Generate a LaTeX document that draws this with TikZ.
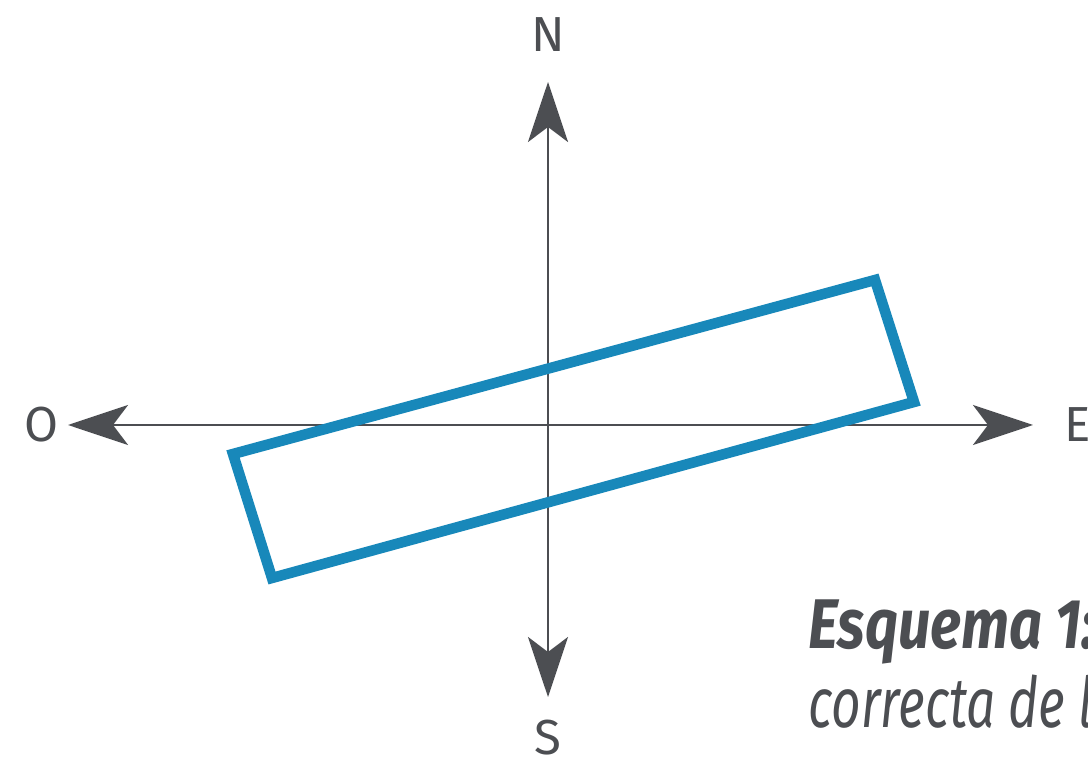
\documentclass[tikz,border=0pt]{standalone}
\usepackage{fontspec}
\setmainfont{Fira Sans}
\usepackage{tikz}
\usetikzlibrary{arrows.meta, positioning, calc}
\definecolor{axisgray}{RGB}{76, 78, 82}
\definecolor{boxblue}{RGB}{24, 136, 186}

\begin{document}
\begin{tikzpicture}[
    axis/.style={draw=axisgray, line width=1.7pt, -{Stealth[length=1.2cm, width=0.8cm, inset=0.3cm]}},
    dir/.style={text=axisgray, font=\fontsize{28}{32}\selectfont, inner sep=0pt},
    plate/.style={draw=boxblue, line width=6pt, line join=miter},
    caption/.style={text=axisgray, font=\fontsize{40}{44}\selectfont\itshape, inner sep=0pt, anchor=base west, transform shape},
]

% Frame
\useasboundingbox (0,0) rectangle (21.76,15.38);
\clip (0,0) rectangle (21.76,15.38);

% Centre and arrow ends
\coordinate (c) at (10.96,6.88);
\coordinate (n) at (10.96,13.74);
\coordinate (s) at (10.96,1.44);
\coordinate (o) at (1.36,6.88);
\coordinate (e) at (20.66,6.88);

% Axes
\draw[axis] (c) -- (n);
\draw[axis] (c) -- (s);
\draw[axis] (c) -- (o);
\draw[axis] (c) -- (e);

% Direction labels
\node[dir] (lblN) at (10.96,14.68) {N};
\node[dir] (lblS) at (10.96,0.62) {S};
\node[dir] (lblO) at (0.84,6.88) {O};
\node[dir, anchor=west] (lblE) at (21.28,6.88) {E};

% Rotated plate
\coordinate (tr) at (17.50,9.78);
\coordinate (br) at (18.28,7.34);
\coordinate (bl) at (5.44,3.82);
\coordinate (tl) at (4.66,6.30);
\draw[plate] (tl) -- (tr) -- (br) -- (bl) -- cycle;

% Caption
\node[caption, xscale=0.82, font=\fontsize{40}{44}\selectfont\itshape\bfseries] (cap1) at (16.16,2.42) {Esquema 1:};
\node[caption, xscale=0.73] (cap2) at (16.16,0.82) {correcta de la};

\end{tikzpicture}
\end{document}
